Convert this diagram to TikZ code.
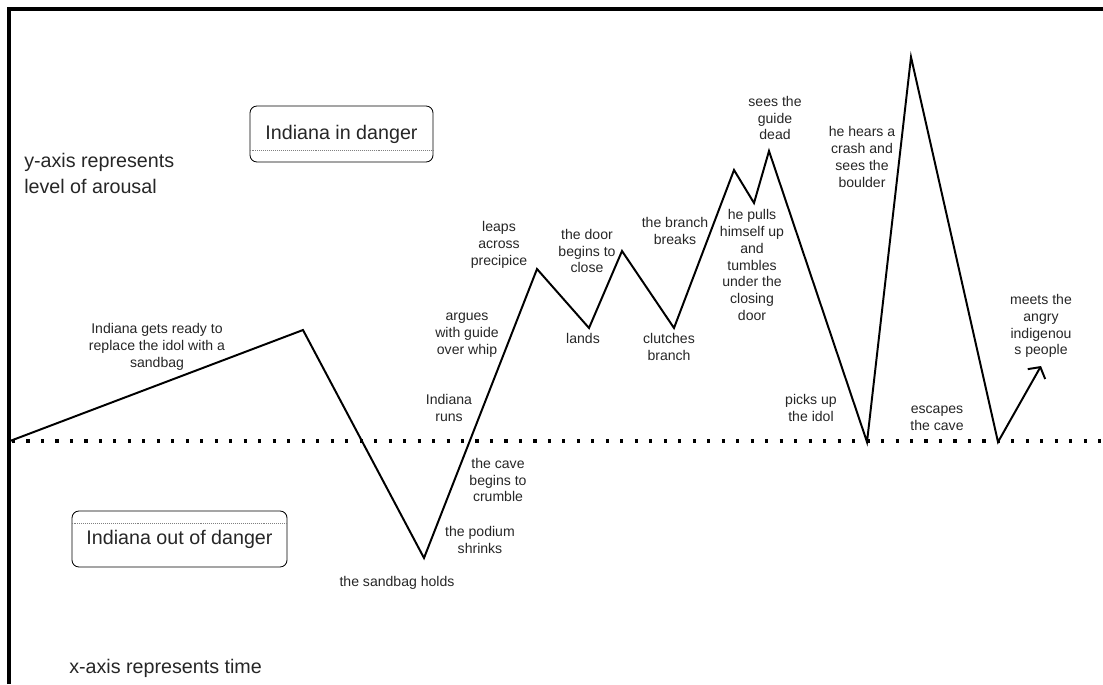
\documentclass[tikz,border=0pt]{standalone}
\usepackage{fontspec}
\setmainfont{Liberation Sans}
\usetikzlibrary{arrows.meta}

\begin{document}
\begin{tikzpicture}[x=0.025cm, y=-0.025cm,
    >={Straight Barb[length=0.2cm,width=0.5cm]},
    event/.style={align=center, inner sep=0pt, text=black!85,
        font=\fontsize{10}{12}\selectfont},
    axisnote/.style={align=left, inner sep=0pt, text=black!85,
        font=\fontsize{14}{18.5}\selectfont},
    zone/.style={draw, rounded corners=5pt, line width=0.6pt, minimum height=1.4cm,
        text=black!85, font=\fontsize{14}{17}\selectfont}]
    % Fix the picture size
    \useasboundingbox (0,0) rectangle (1103,684);

    % Draw the two axes
    \draw[line width=2.2pt] (9,684) -- (9,9) -- (1103,9);

    % Draw the zero level
    \draw[line width=2.2pt, dash pattern=on 2.2pt off 8.1pt] (12,441) -- (1103,441);

    % Points of the arousal curve
    \coordinate (p0) at (10,441);
    \coordinate (p1) at (303,330);
    \coordinate (p2) at (424,558);
    \coordinate (p3) at (537,269);
    \coordinate (p4) at (589,328);
    \coordinate (p5) at (622,251);
    \coordinate (p6) at (674,328);
    \coordinate (p7) at (734,170);
    \coordinate (p8) at (754,203);
    \coordinate (p9) at (769,151);
    \coordinate (p10) at (867,442);
    \coordinate (p11) at (911,57);
    \coordinate (p12) at (998,442);
    \coordinate (p13) at (1041,366);

    % Draw the arousal curve
    \draw[line width=1.4pt, ->] (p0) -- (p1) -- (p2) -- (p3) -- (p4) -- (p5) -- (p6)
        -- (p7) -- (p8) -- (p9) -- (p10) -- (p11) -- (p12) -- (p13);

    % Danger zones
    \node[zone, minimum width=4.575cm] (danger) at (341.5,134) {Indiana in danger};
    \draw[gray, line width=0.4pt, densely dotted] ([yshift=0.3cm]danger.south west)
        -- ([yshift=0.3cm]danger.south east);
    \node[zone, minimum width=5.375cm] (safe) at (179.5,539) {Indiana out of danger};
    \draw[gray, line width=0.4pt, densely dotted] ([yshift=-0.325cm]safe.north west)
        -- ([yshift=-0.325cm]safe.north east);

    % Axis notes
    \node[axisnote, anchor=west] (yaxis) at (24,173) {y-axis represents\\level of arousal};
    \node[axisnote, anchor=west] (xaxis) at (69,668) {x-axis represents time};

    % Label the events
    \node[event] (ready) at (157,347) {Indiana gets ready to\\replace the idol with a\\sandbag};
    \node[event] (holds) at (397,583) {the sandbag holds};
    \node[event] (podium) at (480,540) {the podium\\shrinks};
    \node[event] (crumble) at (498,480) {the cave\\begins to\\crumble};
    \node[event] (runs) at (449,408) {Indiana\\runs};
    \node[event] (argues) at (467,335) {argues\\with guide\\over whip};
    \node[event] (leaps) at (499,245) {leaps\\across\\precipice};
    \node[event] (door) at (587,251) {the door\\begins to\\close};
    \node[event] (lands) at (583,338) {lands};
    \node[event] (breaks) at (675,231) {the branch\\breaks};
    \node[event] (clutches) at (669,347) {clutches\\branch};
    \node[event] (tumbles) at (752,265) {he pulls\\himself up\\and\\tumbles\\under the\\closing\\door};
    \node[event] (guide) at (775,118) {sees the\\guide\\dead};
    \node[event] (boulder) at (862,157) {he hears a\\crash and\\sees the\\boulder};
    \node[event] (idol) at (811,408) {picks up\\the idol};
    \node[event] (escapes) at (937,418) {escapes\\the cave};
    \node[event] (meets) at (1041,326) {meets the\\angry\\indigenou\\s people};
\end{tikzpicture}
\end{document}
